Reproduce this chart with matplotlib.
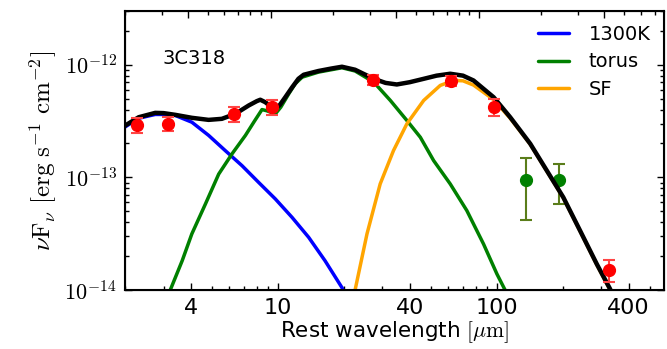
import matplotlib
matplotlib.use('Agg')
import matplotlib.pyplot as plt
from matplotlib.ticker import LogLocator, NullFormatter, FixedLocator, FixedFormatter

plt.rcParams['mathtext.fontset'] = 'cm'
plt.rcParams['mathtext.rm'] = 'serif'
plt.rcParams['lines.solid_joinstyle'] = 'round'
plt.rcParams['lines.solid_capstyle'] = 'round'

# model curves (rest wavelength in micron, nuFnu in erg/s/cm2)
wl_bb = [2.0, 2.31, 2.75, 3.0, 3.40, 4.04, 4.82, 5.74, 6.85, 8.15, 9.72, 11.6, 13.8, 16.4, 19.6, 21.0]
f_bb = [2.8e-13, 3.35e-13, 3.62e-13, 3.62e-13, 3.54e-13, 3.09e-13, 2.36e-13, 1.73e-13, 1.27e-13,
        9.04e-14, 6.44e-14, 4.41e-14, 2.94e-14, 1.82e-14, 1.05e-14, 8e-15]

wl_torus = [3.1, 3.22, 3.65, 4.04, 4.66, 5.36, 6.17, 7.1, 7.8, 8.45, 8.9, 9.72, 10.3, 11.2, 12.0,
            12.9, 15.3, 19.6, 22.5, 27.4, 32.6, 38.8, 44.7, 51.4, 61.2, 72.9, 86.9, 100.0, 109.0, 113.0]
f_torus = [8e-15, 1.0e-14, 1.82e-14, 3.15e-14, 5.8e-14, 1.07e-13, 1.62e-13, 2.36e-13, 3.15e-13,
           4.0e-13, 3.9e-13, 3.66e-13, 4.2e-13, 5.52e-13, 6.8e-13, 7.76e-13, 8.6e-13, 9.4e-13,
           8.8e-13, 7.0e-13, 4.82e-13, 3.2e-13, 2.27e-13, 1.41e-13, 8.75e-14, 5.07e-14, 2.56e-14,
           1.39e-14, 1.0e-14, 8e-15]

wl_sf = [21.8, 22.5, 25.5, 29.3, 33.7, 38.8, 46.3, 55.1, 63.4, 70.0, 78.2, 96.6, 115.0, 142.0,
         169.0, 201.0, 240.0, 286.0, 329.0, 345.0]
f_sf = [7e-15, 1.0e-14, 3.15e-14, 8.75e-14, 1.73e-13, 2.99e-13, 4.82e-13, 6.55e-13, 7.25e-13,
        7.2e-13, 6.6e-13, 4.9e-13, 3.35e-13, 1.97e-13, 1.14e-13, 6.6e-14, 3.33e-14, 1.68e-14,
        1.0e-14, 8e-15]

wl_tot = [2.0, 2.31, 2.75, 3.0, 3.40, 4.04, 4.82, 5.54, 6.38, 7.35, 8.0, 8.30, 8.75, 9.2, 9.72,
          10.2, 10.8, 11.6, 12.4, 13.1, 15.3, 17.5, 19.6, 22.5, 27.4, 31.0, 34.9, 40.0, 46.3, 53.0,
          61.2, 70.0, 78.2, 96.6, 115.0, 128.0, 142.0, 169.0, 201.0, 240.0, 286.0, 329.0, 345.0]
f_tot = [2.88e-13, 3.42e-13, 3.74e-13, 3.72e-13, 3.59e-13, 3.38e-13, 3.24e-13, 3.31e-13, 3.66e-13,
         4.35e-13, 4.75e-13, 4.89e-13, 4.65e-13, 4.3e-13, 4.06e-13, 4.4e-13, 5.15e-13, 6.3e-13,
         7.51e-13, 8.15e-13, 8.8e-13, 9.25e-13, 9.6e-13, 9.03e-13, 7.5e-13, 6.9e-13, 6.68e-13,
         7.0e-13, 7.5e-13, 8.0e-13, 8.32e-13, 8.0e-13, 7.25e-13, 5.15e-13, 3.42e-13, 2.6e-13,
         1.99e-13, 1.15e-13, 6.66e-14, 3.36e-14, 1.70e-14, 1.02e-14, 8e-15]

# photometry
wl_red = [2.26, 3.13, 6.27, 9.39, 27.2, 61.8, 96.6, 326.6]
f_red = [2.93e-13, 2.99e-13, 3.66e-13, 4.25e-13, 7.36e-13, 7.2e-13, 4.25e-13, 1.51e-14]
e_red = [0.45e-13, 0.43e-13, 0.55e-13, 0.65e-13, 0.8e-13, 0.75e-13, 0.72e-13, 0.34e-14]

wl_green = [135.5, 192.8]
f_green = [9.4e-14, 9.5e-14]
e_green_lo = [5.25e-14, 3.7e-14]
e_green_hi = [5.6e-14, 3.7e-14]

major_x = [4, 10, 40, 100, 400]

fig = plt.figure(figsize=(6.67, 3.49), dpi=100)
ax = fig.add_axes([0.1874, 0.169, 0.8081, 0.7995])

ax.errorbar(wl_green, f_green, yerr=[e_green_lo, e_green_hi], fmt='o', color='green', ms=8.5,
            ecolor='#5a7d1a', elinewidth=1.5, capsize=4, capthick=1.5, zorder=1)

ax.plot(wl_bb, f_bb, color='blue', lw=2.5, label='1300K', zorder=2)
ax.plot(wl_torus, f_torus, color='green', lw=2.5, label='torus', zorder=2)
ax.plot(wl_sf, f_sf, color='orange', lw=2.5, label='SF', zorder=2)
ax.plot(wl_tot, f_tot, color='black', lw=3.2, zorder=3)

ax.errorbar(wl_red, f_red, yerr=e_red, fmt='o', color='red', ms=8.5, ecolor='#ff4444',
            elinewidth=1.5, capsize=4, capthick=1.5, zorder=4)

ax.set_xscale('log')
ax.set_yscale('log')
ax.set_xlim(2, 580)
ax.set_ylim(1e-14, 3e-12)

ax.xaxis.set_major_locator(FixedLocator(major_x))
ax.xaxis.set_major_formatter(FixedFormatter([str(v) for v in major_x]))
ax.xaxis.set_minor_locator(LogLocator(base=10, subs=range(2, 10)))
ax.xaxis.set_minor_formatter(NullFormatter())
ax.set_yticks([1e-14, 1e-13, 1e-12])
ax.set_yticklabels([r'$\mathsf{10^{-14}}$', r'$\mathsf{10^{-13}}$', r'$\mathsf{10^{-12}}$'])
ax.yaxis.set_minor_locator(LogLocator(base=10, subs=range(2, 10)))
ax.yaxis.set_minor_formatter(NullFormatter())

ax.tick_params(which='both', direction='in', right=True, top=False, labelsize=16)
ax.tick_params(which='major', length=5, width=1, pad=6)
ax.tick_params(which='minor', length=3, width=1)
for sp in ax.spines.values():
    sp.set_linewidth(1.5)

# top axis ticks
top = ax.twiny()
top.set_xscale('log')
top.set_xlim(2, 775)
top.xaxis.set_major_locator(FixedLocator(major_x))
top.xaxis.set_minor_locator(LogLocator(base=10, subs=range(2, 10)))
top.xaxis.set_major_formatter(NullFormatter())
top.xaxis.set_minor_formatter(NullFormatter())
top.tick_params(which='both', direction='in')
top.tick_params(which='major', length=5, width=1)
top.tick_params(which='minor', length=3, width=1)

ax.set_xlabel(r'Rest wavelength $[\mu\mathrm{m}]$', fontsize=15.5, labelpad=1)
ax.set_ylabel(r'$\nu\mathrm{F}_\nu\ [\mathrm{erg\ s^{-1}\ cm^{-2}}]$', fontsize=18, labelpad=4)

ax.text(0.07, 0.83, '3C318', transform=ax.transAxes, fontsize=14, va='center', ha='left')

ax.legend(loc='upper right', frameon=False, fontsize=14, handlelength=1.6, handletextpad=1.0,
          borderaxespad=0.3, labelspacing=0.45)

fig.savefig('out.png', dpi=100)
